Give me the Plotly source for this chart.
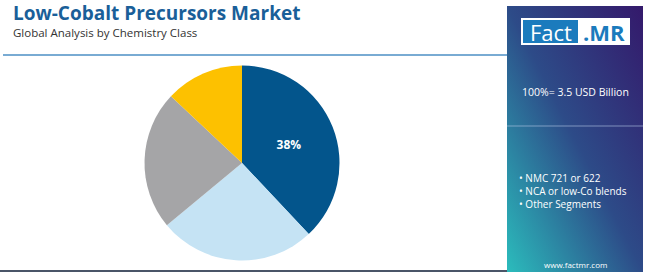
import base64
import plotly.graph_objects as go

# ---- data ----
segments = ["NMC 721 or 622", "NCA or low-Co blends", "Other Segments", "Others"]
shares = [38, 26, 23, 13]
colors = ["#03558c", "#c5e3f4", "#a5a5a7", "#fdc100"]
legend_items = ["NMC 721 or 622", "NCA or low-Co blends", "Other Segments"]
title = "Low-Cobalt Precursors Market"
subtitle = "Global Analysis by Chemistry Class"
total_text = "100%= 3.5 USD Billion"
site = "www.factmr.com"

W, H = 650, 273

fig = go.Figure()
texts = [f"{shares[0]}%"] + [""] * (len(shares) - 1)
fig.add_trace(go.Pie(
    labels=segments, values=shares, sort=False, direction="clockwise", rotation=0,
    marker=dict(colors=colors, line=dict(width=0)),
    text=texts, textinfo="text", textposition="inside",
    insidetextfont=dict(color="white", size=12, family="Open Sans", weight="bold"),
    domain=dict(x=[144.5 / W, 339.5 / W], y=[12.5 / H, 207.5 / H]),
    showlegend=False, hoverinfo="label+percent",
))

# gradient panel as svg image
svg = ('<svg xmlns="http://www.w3.org/2000/svg" width="136" height="266" viewBox="0 0 136 266">'
       '<defs><linearGradient id="g" x1="1" y1="0" x2="0" y2="1">'
       '<stop offset="0" stop-color="#34196b"/><stop offset="0.5" stop-color="#2d4b88"/>'
       '<stop offset="1" stop-color="#2bbcbc"/></linearGradient></defs>'
       '<rect width="136" height="266" fill="url(#g)"/></svg>')
uri = "data:image/svg+xml;base64," + base64.b64encode(svg.encode()).decode()
px = lambda v: v / W
py = lambda v: 1 - v / H
fig.add_layout_image(dict(source=uri, xref="paper", yref="paper", x=px(507), y=py(6),
                          sizex=136 / W, sizey=266 / H, sizing="stretch", layer="below",
                          xanchor="left", yanchor="top"))

shapes = [
    dict(type="line", xref="paper", yref="paper", x0=px(3), x1=px(507), y0=py(55), y1=py(55),
         line=dict(color="#4d8fc4", width=1.5)),
    dict(type="line", xref="paper", yref="paper", x0=px(0), x1=px(507), y0=py(271), y1=py(271),
         line=dict(color="#4a5568", width=2)),
    dict(type="line", xref="paper", yref="paper", x0=px(507), x1=px(643), y0=py(126), y1=py(126),
         line=dict(color="rgba(180,200,230,0.6)", width=1)),
    dict(type="rect", xref="paper", yref="paper", x0=px(521), x1=px(630), y0=py(18), y1=py(45),
         fillcolor="white", line=dict(width=0)),
    dict(type="rect", xref="paper", yref="paper", x0=px(523), x1=px(578), y0=py(20), y1=py(43),
         fillcolor="#1b7bbd", line=dict(width=0)),
]
fig.update_layout(shapes=shapes)

ann = [
    dict(text=f"<b>{title}</b>", x=px(11), y=py(13), xanchor="left", yanchor="middle",
         font=dict(size=19, color="#1a5f99", family="Open Sans")),
    dict(text=subtitle, x=px(11), y=py(32.5), xanchor="left", yanchor="middle",
         font=dict(size=11.5, color="#333333", family="Open Sans")),
    dict(text="Fact", x=px(550.5), y=py(31.5), xanchor="center", yanchor="middle",
         font=dict(size=22, color="white", family="Open Sans")),
    dict(text="<b>.MR</b>", x=px(604), y=py(31.5), xanchor="center", yanchor="middle",
         font=dict(size=22, color="#1b7bbd", family="Open Sans")),
    dict(text=total_text, x=px(575), y=py(92), xanchor="center", yanchor="middle",
         font=dict(size=10.5, color="white", family="Open Sans")),
    dict(text="<br>".join("• " + s for s in legend_items), x=px(517), y=py(190.5),
         xanchor="left", yanchor="middle", align="left",
         font=dict(size=10, color="white", family="Open Sans")),
    dict(text=site, x=px(575), y=py(264), xanchor="center", yanchor="middle",
         font=dict(size=8, color="white", family="Open Sans")),
]
for a in ann:
    a.update(xref="paper", yref="paper", showarrow=False)
fig.update_layout(annotations=ann)

fig.update_layout(width=W, height=H, margin=dict(l=0, r=0, t=0, b=0),
                  paper_bgcolor="white", plot_bgcolor="white")
fig.write_html("out.html")
